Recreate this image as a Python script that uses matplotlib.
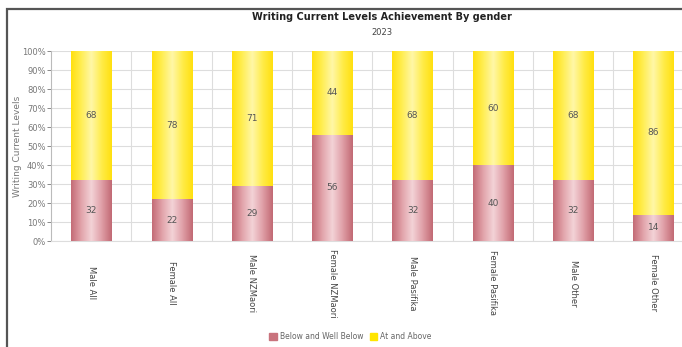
import numpy as np
import matplotlib.pyplot as plt
from matplotlib.colors import LinearSegmentedColormap
from matplotlib.patches import Rectangle

groups = ['Male All', 'Female All', 'Male NZMaori', 'Female NZMaori',
          'Male Pasifika', 'Female Pasifika', 'Male Other', 'Female Other']
below = [32, 22, 29, 56, 32, 40, 32, 14]
above = [68, 78, 71, 44, 68, 60, 68, 86]
series_names = ['Below and Well Below', 'At and Above']

pink_map = LinearSegmentedColormap.from_list(
    'pink', ['#c46c77', '#e2a4ab', '#f3d3d7', '#e0a0a8', '#c26a75'])
yellow_map = LinearSegmentedColormap.from_list(
    'yellow', ['#ffe010', '#ffee55', '#fff7a8', '#ffec4a', '#ffe010'])

fig = plt.figure(figsize=(6.82, 3.47), dpi=100)
ax = fig.add_axes([0.075, 0.305, 0.942, 0.548])

x = np.arange(len(groups))
bars_lo = ax.bar(x, below, width=0.5, color='#d48a93', zorder=2)
bars_hi = ax.bar(x, above, width=0.5, bottom=below, color='#ffe830', zorder=2)

# horizontal shading across each bar segment
grad = np.linspace(0, 1, 64).reshape(1, -1)
for bars, cmap in [(bars_lo, pink_map), (bars_hi, yellow_map)]:
    for p in bars:
        x0, y0 = p.get_x(), p.get_y()
        ax.imshow(grad, cmap=cmap, aspect='auto', zorder=3,
                  extent=(x0, x0 + p.get_width(), y0, y0 + p.get_height()))

for i in range(len(groups)):
    ax.text(x[i], below[i] / 2, str(below[i]), ha='center', va='center',
            fontsize=6.5, color='#555555', zorder=4)
    ax.text(x[i], below[i] + above[i] / 2, str(above[i]), ha='center',
            va='center', fontsize=6.5, color='#555555', zorder=4)

ax.set_xlim(-0.5, len(groups) - 0.5)
ax.set_ylim(0, 100)
ax.set_yticks(np.arange(0, 101, 10))
ax.set_yticklabels([f'{v}%' for v in range(0, 101, 10)])
ax.set_xticks(x)
ax.set_xticklabels(groups, rotation=-90, ha='center', va='center')
ax.set_xticks(x[:-1] + 0.5, minor=True)

ax.grid(axis='y', color='#dddddd', linewidth=0.8, zorder=0)
ax.grid(axis='x', which='minor', color='#dddddd', linewidth=0.8, zorder=0)
ax.tick_params(axis='y', labelsize=6, colors='#777777', length=3, width=0.6, pad=1)
ax.tick_params(axis='x', which='major', labelsize=6, colors='#444444', length=0, pad=30)
ax.tick_params(axis='x', which='minor', length=0)
for s in ['top', 'right']:
    ax.spines[s].set_visible(False)
ax.spines['left'].set_color('#bbbbbb')
ax.spines['bottom'].set_color('#dddddd')
ax.set_ylabel('Writing Current Levels', fontsize=6.5, color='#777777')
ax.yaxis.set_label_coords(-0.045, 0.5)

fig.text(0.56, 0.951, 'Writing Current Levels Achievement By gender',
         ha='center', va='center', fontsize=7, fontweight='bold', color='#222222')
fig.text(0.56, 0.905, '2023', ha='center', va='center', fontsize=6, color='#444444')

handles = [Rectangle((0, 0), 1, 1, color='#c9737d'),
           Rectangle((0, 0), 1, 1, color='#ffe500')]
fig.legend(handles, series_names, loc='center', bbox_to_anchor=(0.514, 0.029),
           ncol=2, frameon=False, fontsize=5.5, labelcolor='#666666',
           handlelength=1.0, handleheight=1.0, handletextpad=0.4, columnspacing=0.8)

# outer frame of the chart panel
fig.patches.append(Rectangle((7 / 682, -0.1), 1.2, 1.1 - 9 / 347, transform=fig.transFigure,
                             fill=False, edgecolor='#555555', linewidth=1.6))

fig.savefig('out.png', dpi=100)
